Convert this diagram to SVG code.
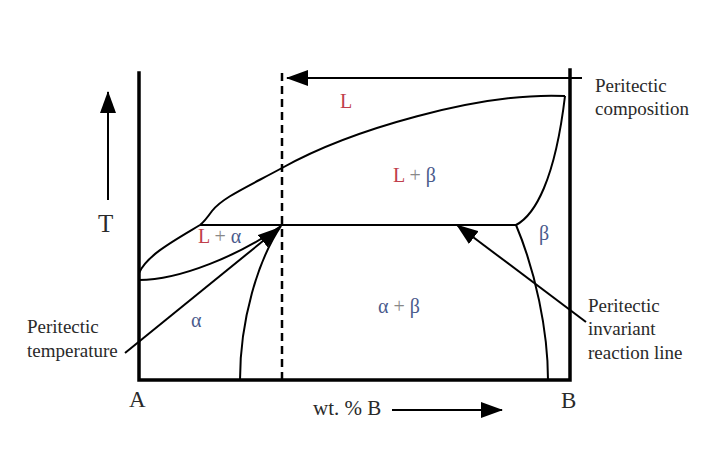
<svg xmlns="http://www.w3.org/2000/svg" width="720" height="463" viewBox="0 0 720 463">
<defs>
<marker id="ahb" markerWidth="22" markerHeight="16" refX="21" refY="8" orient="auto" markerUnits="userSpaceOnUse" viewBox="0 0 22 16">
<path d="M0,0 L22,8 L0,16 Z" fill="#000"/>
</marker>
</defs>
<style>
.ax{stroke:#000;stroke-width:3.5;fill:none;stroke-linecap:square}
.cv{stroke:#000;stroke-width:2;fill:none}
.ar{stroke:#000;stroke-width:2;fill:none}
.t{font-family:"Liberation Serif","Times New Roman",serif;font-size:19px;fill:#2a2a2a}
.lb{font-family:"Liberation Serif","Times New Roman",serif;font-size:20px}
.red{fill:#c0404c}
.blu{fill:#4a5a8c}
.gr{fill:#888}
</style>
<rect width="720" height="463" fill="#fff"/>
<g id="axes">
<path class="ax" d="M139,73 L139,380 L570,380 L570,70"/>
</g>
<g id="phase-lines">
<path class="cv" d="M565,96 C480,92 350,130 282,168 C245,188 222,198 212,211 C207,218 204,222 200,225 C175,240 147,255 139,273"/>
<path class="cv" d="M139,280 C180,280 240,255 281,226"/>
<path class="cv" d="M200,225 L516,225"/>
<path class="cv" d="M281,226 C258,260 240,320 240,380"/>
<path class="cv" d="M516,225 C535,215 555,180 565,96"/>
<path class="cv" d="M516,225 C535,270 548,330 548,380"/>
<path stroke="#000" stroke-width="2.5" stroke-dasharray="8,5" fill="none" d="M282,73 L282,380"/>
</g>
<g id="connectors">
<path class="ar" d="M582,78 L287,78" marker-end="url(#ahb)"/>
<path class="ar" d="M108,200 L108,92" marker-end="url(#ahb)"/>
<path class="ar" d="M392,410 L502,410" marker-end="url(#ahb)"/>
<path class="ar" d="M125,353 L279,228" marker-end="url(#ahb)"/>
<path class="ar" d="M586,322 L457,225" marker-end="url(#ahb)"/>
</g>
<g id="labels">
<text class="lb red" x="340" y="108">L</text>
<text class="lb" x="393" y="182"><tspan class="red">L</tspan><tspan class="gr"> + </tspan><tspan class="blu">β</tspan></text>
<text class="lb" x="198" y="243"><tspan class="red">L</tspan><tspan class="gr"> + </tspan><tspan class="blu">α</tspan></text>
<text class="lb blu" x="191" y="327">α</text>
<text class="lb" x="378" y="313"><tspan class="blu">α</tspan><tspan class="gr"> + </tspan><tspan class="blu">β</tspan></text>
<text class="lb blu" x="539" y="240">β</text>
<text class="t" x="98" y="232" style="font-size:25px">T</text>
<text class="t" x="129" y="407" style="font-size:23px">A</text>
<text class="t" x="561" y="408" style="font-size:23px">B</text>
<text class="t" x="313" y="415" style="font-size:21px">wt. % B</text>
<text class="t" x="595" y="92">Peritectic</text>
<text class="t" x="595" y="115">composition</text>
<text class="t" x="27" y="333">Peritectic</text>
<text class="t" x="27" y="357">temperature</text>
<text class="t" x="588" y="312">Peritectic</text>
<text class="t" x="588" y="335">invariant</text>
<text class="t" x="588" y="359">reaction line</text>
</g>
</svg>
